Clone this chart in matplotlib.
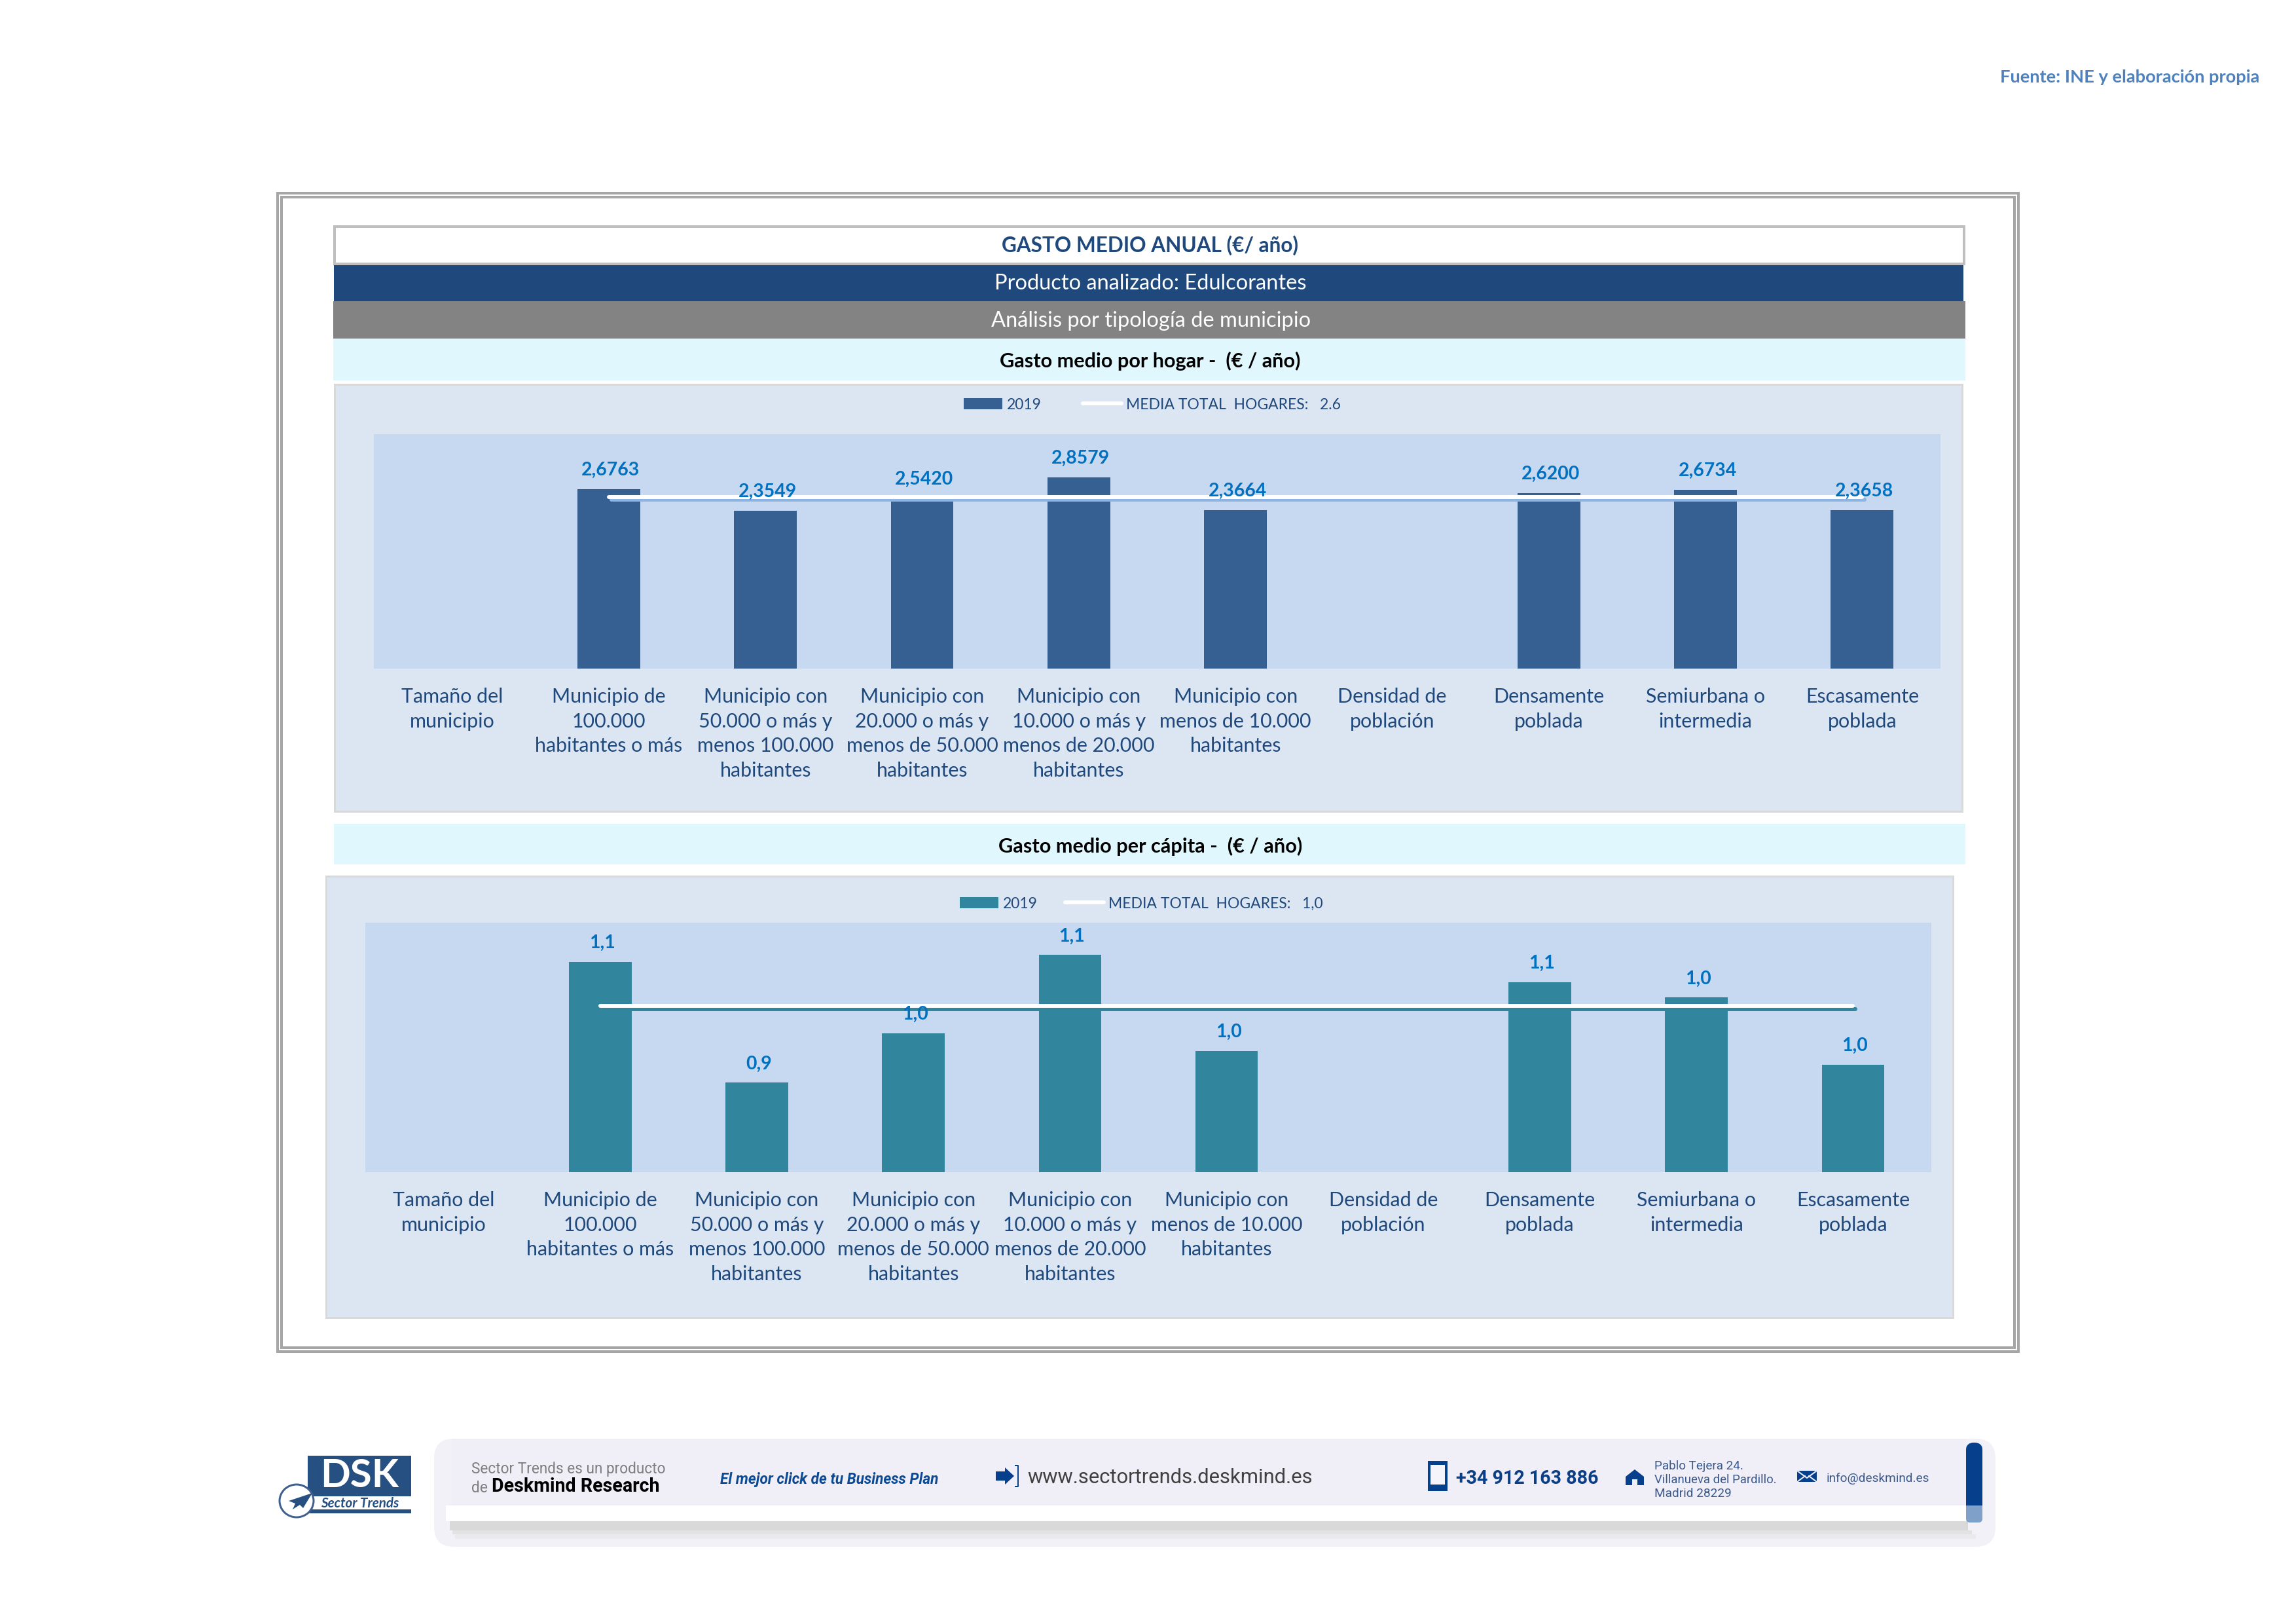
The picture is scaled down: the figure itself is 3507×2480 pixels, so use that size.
import numpy as np
import matplotlib
matplotlib.use("Agg")
import matplotlib.pyplot as plt
from matplotlib.patches import Rectangle, FancyBboxPatch, Polygon, Ellipse, Patch
from matplotlib.lines import Line2D
import matplotlib.patheffects as pe

W, H, DPI = 3507, 2480, 300
plt.rcParams['font.family'] = ['Lato', 'DejaVu Sans']

# ---------- data ----------
categories = ["Tamaño del\nmunicipio", "Municipio de\n100.000\nhabitantes o más",
              "Municipio con\n50.000 o más y\nmenos 100.000\nhabitantes",
              "Municipio con\n20.000 o más y\nmenos de 50.000\nhabitantes",
              "Municipio con\n10.000 o más y\nmenos de 20.000\nhabitantes",
              "Municipio con\nmenos de 10.000\nhabitantes", "Densidad de\npoblación",
              "Densamente\npoblada", "Semiurbana o\nintermedia", "Escasamente\npoblada"]
gasto_hogar = [np.nan, 2.6763, 2.3549, 2.5420, 2.8579, 2.3664, np.nan, 2.6200, 2.6734, 2.3658]
media_hogar = 2.56
gasto_capita = [np.nan, 1.082, 0.940, 0.998, 1.090, 0.977, np.nan, 1.058, 1.040, 0.961]
media_capita = 1.03
serie = "2019"
leyenda_hogar = "MEDIA TOTAL  HOGARES:   2.6"
leyenda_capita = "MEDIA TOTAL  HOGARES:   1,0"

NAVY = '#1F497D'
px = 72 / DPI

fig = plt.figure(figsize=(W / DPI, H / DPI), dpi=DPI, facecolor='white')
bg = fig.add_axes([0, 0, 1, 1], zorder=0)
bg.set_xlim(0, W); bg.set_ylim(H, 0); bg.axis('off')
renderer = fig.canvas.get_renderer()


def rect(x0, y0, x1, y1, fc='none', ec='none', lw=0, z=1, ax=bg):
    r = Rectangle((x0, y0), x1 - x0, y1 - y0, fc=fc, ec=ec, lw=lw * px, zorder=z)
    ax.add_patch(r)
    return r


def text(x0, x1, y, s, color, size=8, ha='center', **kw):
    """Text whose size is fitted to the width x1-x0 measured in the reference."""
    xa = {'center': (x0 + x1) / 2, 'left': x0, 'right': x1}[ha]
    t = bg.text(xa, y + 2, s, color=color, fontsize=size, ha=ha, va='center', zorder=10, **kw)
    w = t.get_window_extent(renderer).width
    t.set_fontsize(size * (x1 - x0) / w)
    return t


# ---------- frame ----------
rect(424, 295, 3083, 2064, ec='#A6A6A6', lw=4)
rect(430, 301, 3077, 2058, ec='#A6A6A6', lw=4)

# ---------- header ----------
rect(511, 346, 3000, 403, fc='white', ec='#BFBFBF', lw=4, z=2)
rect(510, 405, 2999, 460, fc=NAVY, z=3)
rect(509, 460, 3002, 517, fc='#838383', z=3)
rect(509, 517, 3002, 581, fc='#E0F7FE', z=3)
rect(510, 1258, 3002, 1320, fc='#E0F7FE', z=3)
rect(511, 587, 2997, 1239, fc='#DCE6F2', ec='#D9D9D9', lw=3, z=2)
rect(498, 1338, 2983, 2012, fc='#DCE6F2', ec='#D9D9D9', lw=3, z=2)

text(1530, 1984, 373, "GASTO MEDIO ANUAL (€/ año)", NAVY, weight='bold')
text(1518, 1997, 431, "Producto analizado: Edulcorantes", 'white')
text(1513, 2003, 488, "Análisis por tipología de municipio", 'white')
text(1527, 1987, 549, "Gasto medio por hogar -  (€ / año)", 'black', weight='bold')
text(1525, 1990, 1290, "Gasto medio per cápita -  (€ / año)", 'black', weight='bold')
text(3054, 3452, 116, "Fuente: INE y elaboración propia", '#4F81BD', weight='bold')


# ---------- charts ----------
def chart(box, ylim, values, mean, color, shadow, fmt, legend_label, legend_xy, shadow_off, col_gap):
    x0, y0, x1, y1 = box
    ax = fig.add_axes([x0 / W, 1 - y1 / H, (x1 - x0) / W, (y1 - y0) / H], zorder=5)
    ax.set_facecolor('#C6D9F1')
    idx = np.arange(len(categories))
    ax.bar(idx, values, width=0.4, color=color, zorder=2)
    line = ax.plot(idx[1:], [mean] * (len(idx) - 1), color='white', lw=6 * px,
                   solid_capstyle='round', zorder=3)[0]
    line.set_path_effects([pe.SimpleLineShadow(offset=shadow_off, shadow_color=shadow, alpha=1),
                           pe.Normal()])
    for i, v in zip(idx, values):
        if not np.isnan(v):
            ax.annotate(fmt.format(v).replace('.', ','), (i, v), xytext=(3 * px, 29 * px),
                        textcoords='offset points', ha='center', va='center', color='#0070C0',
                        fontsize=LABEL_SIZE, weight='bold', zorder=6)
    ax.set_xlim(-0.5, len(categories) - 0.5)
    ax.set_ylim(*ylim)
    ax.set_yticks([])
    ax.set_xticks(idx, categories)
    ax.tick_params(axis='x', length=0, pad=29 * px, labelsize=TICK_SIZE, labelcolor=NAVY)
    for lab in ax.get_xticklabels():
        lab.set_multialignment('center')
        lab.set_linespacing(1.42)
    for s in ax.spines.values():
        s.set_visible(False)
    handles = [Patch(fc=color, ec='none'),
               Line2D([0], [0], color='white', lw=6 * px, solid_capstyle='round')]
    fs = LEGEND_SIZE
    unit = fs / px
    ax.legend(handles, [serie, legend_label], loc='center', ncol=2, frameon=False,
              bbox_to_anchor=(legend_xy[0] / W, 1 - legend_xy[1] / H), bbox_transform=fig.transFigure,
              fontsize=fs, labelcolor=NAVY, handlelength=59 / unit, handleheight=0.72,
              handletextpad=7 / unit, columnspacing=col_gap / unit, borderpad=0, borderaxespad=0)
    return ax


LABEL_SIZE = 6.8
TICK_SIZE = 7.3
LEGEND_SIZE = 5.5
chart((571, 663, 2964, 1021), (0, 3.5), gasto_hogar, media_hogar, '#366092', '#8EB4E3', "{:.4f}",
      leyenda_hogar, (1760, 618), (0.9, -1.0), 63)
chart((558, 1409, 2950, 1790), (0.835, 1.128), gasto_capita, media_capita, '#31859C', '#31859C', "{:.1f}",
      leyenda_capita, (1743, 1380), (0.9, -1.2), 42)

# ---------- footer band ----------
bg.add_patch(FancyBboxPatch((663, 2197), 2385, 165, boxstyle="round,pad=0,rounding_size=30",
                            fc='#F3F1F8', ec='none', zorder=1))
rect(690, 2197, 3003, 2299, fc='#F0EEF6', z=1)
rect(687, 2323, 3006, 2337, fc='#D9D9D9', z=2)
rect(691, 2337, 3012, 2343, fc='#E2E2E4', z=2)
rect(695, 2343, 3018, 2350, fc='#EAEAEC', z=2)
rect(681, 2299, 3003, 2323, fc='white', z=2)
bg.add_patch(FancyBboxPatch((3003, 2206), 25, 119, boxstyle="round,pad=0,rounding_size=6",
                            fc='#7FA0C8', ec='none', zorder=3))
bg.add_patch(FancyBboxPatch((3003, 2203), 25, 110, boxstyle="round,pad=0,rounding_size=12",
                            fc='#063F8C', ec='none', zorder=3))
rect(3003, 2299, 3028, 2315, fc='#7FA0C8', z=3)

text(720, 1017, 2241, "Sector Trends es un producto", '#7F7F7F', family='Roboto')
text(720, 745, 2270, "de", '#7F7F7F', family='Roboto')
text(751, 1008, 2268, "Deskmind Research", 'black', family='Roboto', weight='bold')
text(1100, 1433, 2257, "El mejor click de tu Business Plan", '#0B4A94', family='Roboto', weight='bold', style='italic')
text(1569, 2006, 2254, "www.sectortrends.deskmind.es", '#404040', family='Roboto')
text(2224, 2442, 2256, "+34 912 163 886", '#0B3F86', family='Roboto', weight='bold')
text(2527, 2663, 2237, "Pablo Tejera 24.", '#3B5A8C', family='Roboto', ha='left')
text(2527, 2715, 2258, "Villanueva del Pardillo.", '#3B5A8C', family='Roboto', ha='left')
text(2527, 2645, 2279, "Madrid 28229", '#3B5A8C', family='Roboto', ha='left')
text(2790, 2947, 2256, "info@deskmind.es", '#3B5A8C', family='Roboto')

# icons
ICON = '#063F8C'
bg.add_patch(Polygon([(1521, 2247), (1535, 2247), (1535, 2241), (1549, 2254), (1535, 2267), (1535, 2261), (1521, 2261)],
                     fc=ICON, ec='none', zorder=5))
bg.plot([1551, 1555, 1555, 1551], [2238, 2238, 2270, 2270], color=ICON, lw=2 * px, zorder=5)
rect(2183, 2233, 2209, 2275, fc='#F4F4FA', ec=ICON, lw=4, z=5)
rect(2183, 2267, 2209, 2275, fc=ICON, z=6)
rect(2183, 2231, 2209, 2237, fc=ICON, z=6)
bg.add_patch(Polygon([(2483, 2255), (2497, 2244), (2511, 2255), (2511, 2268), (2501, 2268), (2501, 2259), (2493, 2259),
                      (2493, 2268), (2483, 2268)], fc=ICON, ec='none', zorder=5))
rect(2745, 2246, 2775, 2263, fc=ICON, z=5)
bg.plot([2745, 2760, 2775], [2246, 2257, 2246], color='#F0EEF6', lw=2 * px, zorder=6)
bg.plot([2745, 2757], [2263, 2254], color='#F0EEF6', lw=2 * px, zorder=6)
bg.plot([2775, 2763], [2263, 2254], color='#F0EEF6', lw=2 * px, zorder=6)

# logo
LOGO = '#264F82'
rect(470, 2223, 628, 2285, fc=LOGO, z=3)
rect(470, 2305, 628, 2311, fc=LOGO, z=3)
text(489, 609, 2252, "DSK", 'white', weight='bold')
text(490, 610, 2294, "Sector Trends", LOGO, weight='bold', style='italic')
bg.add_patch(Ellipse((453, 2292), 52, 50, fc='white', ec='#3F5F8F', lw=3 * px, zorder=5))
bg.add_patch(Polygon([(477, 2280), (441, 2292), (451, 2296), (447, 2305), (458, 2298), (463, 2303)],
                     fc=LOGO, ec='none', zorder=6))

fig.savefig('out.png', dpi=DPI, facecolor='white')
